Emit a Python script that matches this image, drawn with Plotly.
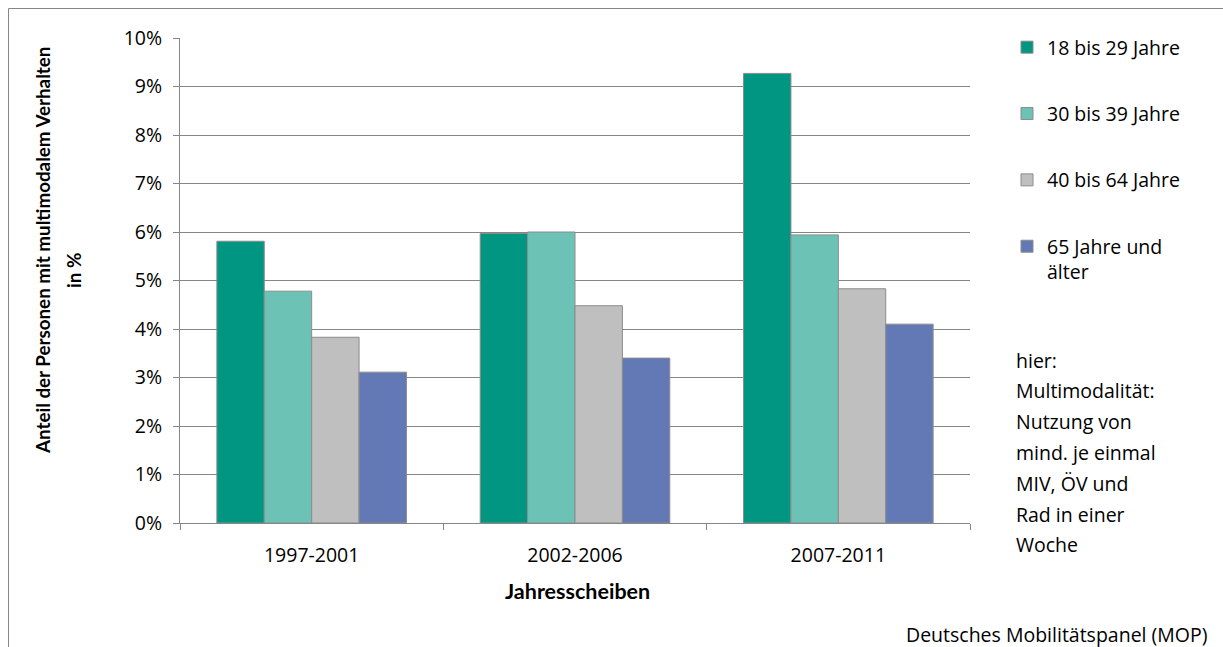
import plotly.graph_objects as go

categories = ["1997-2001", "2002-2006", "2007-2011"]
series_names = ["18 bis 29 Jahre", "30 bis 39 Jahre", "40 bis 64 Jahre", "65 Jahre und<br>älter"]
values_18_29 = [5.81, 5.97, 9.27]
values_30_39 = [4.78, 6.00, 5.94]
values_40_64 = [3.83, 4.48, 4.83]
values_65_plus = [3.11, 3.40, 4.10]
colors = ["#009682", "#6CC3B5", "#BFBFBF", "#6279B5"]
y_ticks = [0, 1, 2, 3, 4, 5, 6, 7, 8, 9, 10]
y_tick_labels = [f"{v}%" for v in y_ticks]
y_title_lines = ["Anteil der Personen mit multimodalem Verhalten", "in %"]
x_title = "Jahresscheiben"
note_lines = ["hier:", "Multimodalität:", "Nutzung von", "mind. je einmal", "MIV, ÖV und", "Rad in einer", "Woche"]
source_text = "Deutsches Mobilitätspanel (MOP)"

FONT = "Open Sans, sans-serif"
BFONT = "Lato, Open Sans, sans-serif"
FS = 19.5
W, H = 1223, 647
L, R, T, B = 180, 253, 38, 124
PW, PH = W - L - R, H - T - B


def px(x):
    return (x - L) / PW


def py(y):
    return (H - B - y) / PH


fig = go.Figure()
for i, (name, vals) in enumerate(zip(series_names, [values_18_29, values_30_39, values_40_64, values_65_plus])):
    fig.add_trace(go.Bar(
        x=categories, y=vals, name=name, legendgroup=f"g{i}",
        marker=dict(color=colors[i], line=dict(color="#8C8C8C", width=1)),
    ))

fig.update_layout(
    width=W, height=H,
    margin=dict(l=L, r=R, t=T, b=B),
    paper_bgcolor="white", plot_bgcolor="white",
    barmode="group", bargap=0.28, bargroupgap=0,
    font=dict(family=FONT, size=FS, color="#000000"),
    showlegend=True,
    legend=dict(x=px(1007), y=py(28), xanchor="left", yanchor="top",
                traceorder="grouped", tracegroupgap=38, valign="top",
                font=dict(family=FONT, size=FS), itemwidth=30,
                bgcolor="rgba(0,0,0,0)"),
    xaxis=dict(showline=True, linecolor="#868686", linewidth=1,
               ticks="outside", tickson="boundaries", ticklen=6, tickcolor="#868686",
               tickfont=dict(family=FONT, size=FS), ticklabelstandoff=15),
    yaxis=dict(range=[0, 10], tickvals=y_ticks, ticktext=y_tick_labels,
               showline=True, linecolor="#868686", linewidth=1,
               ticks="outside", ticklen=6, tickcolor="#868686",
               showgrid=True, gridcolor="#868686", gridwidth=1, zeroline=False,
               tickfont=dict(family=FONT, size=FS), ticklabelstandoff=7),
)

# axis titles
fig.add_annotation(x=px(577), y=py(591), xref="paper", yref="paper", showarrow=False,
                   xanchor="center", yanchor="middle",
                   text=f"<b>{x_title}</b>", font=dict(family=BFONT, size=21.5))
fig.add_annotation(x=px(42), y=py(251), xref="paper", yref="paper", showarrow=False,
                   xanchor="center", yanchor="middle",
                   textangle=-90, text=f"<b>{y_title_lines[0]}</b>", font=dict(family=BFONT, size=18.8))
fig.add_annotation(x=px(73), y=py(271), xref="paper", yref="paper", showarrow=False,
                   xanchor="center", yanchor="middle",
                   textangle=-90, text=f"<b>{y_title_lines[1]}</b>", font=dict(family=BFONT, size=18.8))

# note text, one line per annotation for spacing
for k, line in enumerate(note_lines):
    fig.add_annotation(x=px(1014), y=py(360 + 30.8 * k), xref="paper", yref="paper",
                       xanchor="left", yanchor="middle", showarrow=False, align="left",
                       text=line, font=dict(family=FONT, size=FS))

fig.add_annotation(x=px(1210), y=py(634), xref="paper", yref="paper", showarrow=False,
                   xanchor="right", yanchor="middle", text=source_text,
                   font=dict(family=FONT, size=FS))

fig.add_shape(type="rect", xref="paper", yref="paper",
              x0=px(8.5), x1=px(1260), y0=py(700), y1=py(8.5),
              line=dict(color="#868686", width=1), fillcolor="rgba(0,0,0,0)", layer="below")

fig.write_html("out.html")
